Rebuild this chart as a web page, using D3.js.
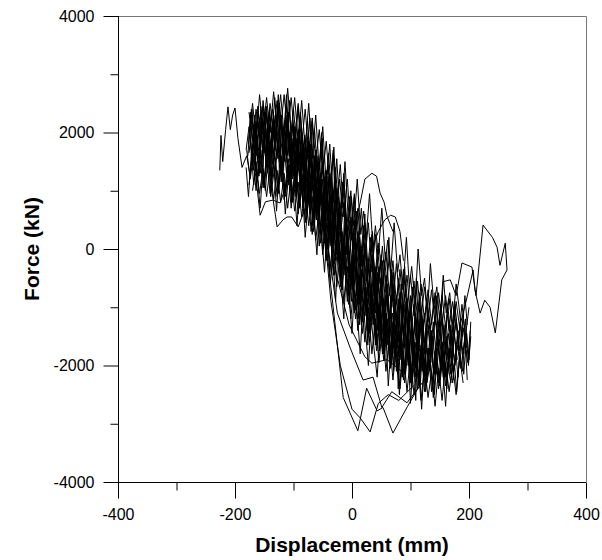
<!DOCTYPE html>
<html>
<head>
<meta charset="utf-8">
<script src="https://cdn.jsdelivr.net/npm/d3@7"></script>
<style>
  body { margin: 0; background: #fff; }
  svg { display: block; }
</style>
</head>
<body>
<svg id="chart" width="602" height="560"></svg>
<script>
"use strict";

// axis ticks
const xMajor = [-400, -200, 0, 200, 400];
const xMinor = [-300, -100, 100, 300];
const yMajor = [-4000, -2000, 0, 2000, 4000];
const yMinor = [-3000, -1000, 1000, 3000];

// hysteresis traces, [displacement mm, force kN]
const branch1 = [[-226,1350],[-224,1950],[-221,1500],[-216,2050],[-212,2440],[-208,2050],[-204,2300],[-200,2420],[-195,1900],[-188,1400],[-180,1600],[-174,1250],[-168,1900],[-162,1150],[-156,1700],[-150,1050],[-144,1800],[-138,1200],[-132,1600],[-126,950],[-120,1500],[-114,900],[-108,1450],[-102,800],[-96,1300],[-90,700],[-84,1250],[-78,500],[-72,1100],[-66,300],[-60,900],[-54,100],[-48,650],[-42,-200],[-36,350],[-30,-450],[-24,50],[-18,-700],[-12,-200],[-6,-950],[0,-400],[6,-1200],[12,-650],[18,-1450],[24,-850],[30,-1600],[36,-1000],[42,-1750],[48,-1200],[54,-1900],[60,-1350],[66,-2050],[72,-1500],[78,-2150],[84,-1600],[90,-2300],[96,-1700],[102,-2400],[108,-1800],[114,-2350],[120,-1850],[126,-2450],[132,-1900],[138,-2300],[144,-1850],[150,-2250],[156,-1750],[162,-2200],[168,-1700],[174,-2100],[180,-1650],[186,-2050],[192,-1600],[198,-1950],[202,-1400]];
const branch2 = [[200,-1000],[194,-1500],[188,-950],[182,-1550],[176,-1000],[170,-1600],[164,-1000],[158,-1500],[152,-950],[146,-1450],[140,-900],[134,-1400],[128,-850],[122,-1350],[116,-750],[110,-1300],[104,-650],[98,-1250],[92,-600],[86,-1150],[80,-500],[74,-1050],[68,-350],[62,-900],[56,-200],[50,-750],[44,0],[38,-600],[32,200],[26,-400],[20,400],[14,-200],[8,650],[2,0],[-4,900],[-10,250],[-16,1150],[-22,450],[-28,1400],[-34,700],[-40,1650],[-46,950],[-52,1850],[-58,1200],[-64,2050],[-70,1400],[-76,2200],[-82,1550],[-88,2300],[-94,1700],[-100,2400],[-106,1800],[-112,2450],[-118,1850],[-124,2500],[-130,1850],[-136,2400],[-142,1900],[-148,2450],[-154,1900],[-160,2350],[-166,1800],[-172,2300]];
const branch3 = [[-172,1500],[-166,2200],[-160,1550],[-154,2250],[-148,1600],[-142,2150],[-136,1450],[-130,2100],[-124,1400],[-118,2050],[-112,1300],[-106,2000],[-100,1250],[-94,1900],[-88,1100],[-82,1750],[-76,950],[-70,1600],[-64,750],[-58,1400],[-52,500],[-46,1200],[-40,250],[-34,950],[-28,0],[-22,700],[-16,-250],[-10,450],[-4,-500],[2,150],[8,-800],[14,-150],[20,-1050],[26,-400],[32,-1250],[38,-550],[44,-1400],[50,-700],[56,-1550],[62,-850],[68,-1700],[74,-1000],[80,-1850],[86,-1150],[92,-1950],[98,-1250],[104,-2000],[110,-1300],[116,-2100],[122,-1350],[128,-2150],[134,-1400],[140,-2150],[146,-1450],[152,-2100],[158,-1450],[164,-2050],[170,-1450],[176,-2000],[182,-1400]];
const branch4 = [[180,-1900],[174,-1400],[168,-2150],[162,-1500],[156,-2200],[150,-1550],[144,-2150],[138,-1500],[132,-2100],[126,-1450],[120,-2100],[114,-1400],[108,-2050],[102,-1350],[96,-2000],[90,-1250],[84,-1900],[78,-1200],[72,-1800],[66,-1050],[60,-1650],[54,-850],[48,-1500],[42,-700],[36,-1300],[30,-500],[24,-1150],[18,-300],[12,-950],[6,-100],[0,-700],[-6,150],[-12,-450],[-18,400],[-24,-200],[-30,650],[-36,50],[-42,900],[-48,300],[-54,1150],[-60,550],[-66,1350],[-72,750],[-78,1550],[-84,900],[-90,1650],[-96,1050],[-102,1700],[-108,1100],[-114,1800],[-120,1200],[-126,1850],[-132,1250],[-138,1900],[-144,1300],[-150,1950],[-156,1300],[-162,1950],[-168,1350],[-174,1900]];
const branch5 = [[-175,2050],[-170,2500],[-164,1900],[-158,2650],[-152,2050],[-146,2600],[-140,2000],[-134,2700],[-128,2100],[-122,2650],[-116,1950],[-110,2760],[-104,2000],[-98,2600],[-92,1850],[-86,2550],[-80,1700],[-74,2500],[-68,1550],[-62,2300],[-56,1350],[-50,2100],[-44,1100],[-38,1800],[-32,800],[-26,1550],[-20,500],[-14,1250],[-8,250],[-2,1000],[4,0],[10,700],[16,-200],[22,450],[28,-400],[34,250],[40,-550],[46,100],[52,-650],[58,-50],[64,-800],[70,-200],[76,-950],[82,-350],[88,-1050],[94,-450],[100,-1150],[106,-550],[112,-1200],[118,-600],[124,-1250],[130,-700],[136,-1300],[142,-750],[148,-1350],[154,-800],[160,-1350],[166,-850],[172,-1400],[178,-900],[184,-1350]];
const branch6 = [[190,-2300],[184,-1850],[178,-2500],[172,-2000],[166,-2450],[160,-1950],[154,-2600],[148,-2050],[142,-2700],[136,-2100],[130,-2550],[124,-2000],[118,-2600],[112,-1950],[106,-2500],[100,-1850],[94,-2450],[88,-1750],[82,-2400],[76,-1650],[70,-2250],[64,-1500],[58,-2100],[52,-1350],[46,-1950],[40,-1200],[34,-1800],[28,-1000],[22,-1600],[16,-800],[10,-1400],[4,-550],[-2,-1200],[-8,-300],[-14,-900],[-20,-50],[-26,-650],[-32,200],[-38,-400],[-44,450],[-50,-100],[-56,700],[-62,150],[-68,900],[-74,400],[-80,1050],[-86,550],[-92,1150],[-98,650],[-104,1250],[-110,700],[-116,1300],[-122,800],[-128,1350],[-134,850],[-140,1400],[-146,900],[-152,1400],[-158,950],[-164,1450],[-170,1000]];
const branch7 = [[-170,1450],[-166,2150],[-163,1700],[-158,1300],[-154,2250],[-147,1500],[-144,1900],[-139,1250],[-136,2050],[-129,1600],[-125,1850],[-121,1150],[-114,2000],[-111,1500],[-106,1200],[-101,1900],[-95,1000],[-92,1600],[-86,1300],[-83,1800],[-77,800],[-73,1400],[-68,1000],[-64,1600],[-57,500],[-53,1100],[-49,700],[-45,1250],[-39,150],[-36,700],[-31,300],[-27,800],[-21,-300],[-17,300],[-12,-100],[-8,400],[-2,-650],[1,-100],[6,-400],[10,-950],[16,0],[20,-700],[25,-1200],[31,-350],[35,-900],[40,-1400],[44,-500],[50,-1100],[55,-1600],[58,-800],[64,-1200],[69,-1750],[73,-850],[79,-1400],[84,-1900],[87,-1000],[93,-1650],[97,-2000],[102,-1150],[107,-1750],[111,-2100],[116,-1250],[121,-1850],[125,-2050],[130,-1300],[136,-1800],[140,-2150],[145,-1400],[151,-2000],[155,-1600],[159,-2200],[165,-1450],[170,-1850],[174,-2050],[180,-1500],[185,-1900],[190,-1350],[196,-1800]];
const branch8 = [[196,-1700],[190,-1150],[184,-1750],[178,-1200],[172,-1800],[166,-1250],[160,-1800],[154,-1200],[148,-1750],[142,-1150],[136,-1700],[130,-1100],[124,-1650],[118,-1050],[112,-1600],[106,-950],[100,-1550],[94,-850],[88,-1500],[82,-750],[76,-1400],[70,-600],[64,-1250],[58,-450],[52,-1100],[46,-300],[40,-950],[34,-100],[28,-750],[22,100],[16,-550],[10,300],[4,-300],[-2,550],[-8,-50],[-14,800],[-20,200],[-26,1050],[-32,400],[-38,1300],[-44,650],[-50,1500],[-56,900],[-62,1700],[-68,1100],[-74,1850],[-80,1250],[-86,2000],[-92,1350],[-98,2100],[-104,1400],[-110,2200],[-116,1500],[-122,2250],[-128,1550],[-134,2300],[-140,1600],[-146,2300],[-152,1650],[-158,2250],[-164,1600],[-170,2200],[-176,1650]];
const branch9 = [[-176,1100],[-170,1700],[-164,1000],[-158,1650],[-152,1050],[-146,1600],[-140,950],[-134,1550],[-128,900],[-122,1500],[-116,850],[-110,1450],[-104,700],[-98,1350],[-92,600],[-86,1250],[-80,450],[-74,1100],[-68,250],[-62,950],[-56,50],[-50,750],[-44,-200],[-38,500],[-32,-450],[-26,250],[-20,-650],[-14,0],[-8,-900],[-2,-250],[4,-1100],[10,-450],[16,-1300],[22,-650],[28,-1500],[34,-800],[40,-1650],[46,-950],[52,-1800],[58,-1100],[64,-1950],[70,-1250],[76,-2100],[82,-1400],[88,-2250],[94,-1500],[100,-2300],[106,-1600],[112,-2400],[118,-1650],[124,-2450],[130,-1700],[136,-2450],[142,-1750],[148,-2400],[154,-1800],[160,-2350],[166,-1800],[172,-2300],[178,-1750]];
const branch10 = [[178,-1400],[172,-900],[166,-1350],[160,-800],[154,-1300],[148,-750],[142,-1300],[136,-700],[130,-1250],[124,-650],[118,-1200],[112,-550],[106,-1150],[100,-450],[94,-1100],[88,-350],[82,-1000],[76,-250],[70,-900],[64,-100],[58,-750],[52,50],[46,-600],[40,250],[34,-400],[28,450],[22,-200],[16,700],[10,50],[4,950],[-2,300],[-8,1200],[-14,550],[-20,1450],[-26,800],[-32,1650],[-38,1050],[-44,1850],[-50,1300],[-56,2050],[-62,1500],[-68,2250],[-74,1650],[-80,2400],[-86,1800],[-92,2500],[-98,1900],[-104,2600],[-110,2000],[-116,2650],[-122,2050],[-128,2550],[-134,2000],[-140,2500],[-146,1950],[-152,2450],[-158,1900],[-164,2400],[-170,1850],[-176,2350]];
const branch11 = [[-176,1900],[-171,2400],[-166,1750],[-161,2450],[-156,1800],[-151,2350],[-146,1700],[-141,2400],[-136,1750],[-131,2300],[-126,1650],[-121,2300],[-116,1600],[-111,2200],[-106,1500],[-101,2150],[-96,1400],[-91,2050],[-86,1300],[-81,1950],[-76,1100],[-71,1800],[-66,900],[-61,1650],[-56,700],[-51,1450],[-46,500],[-41,1250],[-36,250],[-31,1000],[-26,0],[-21,800],[-16,-200],[-11,600],[-6,-400],[-1,350],[4,-600],[9,100],[14,-800],[19,-100],[24,-950],[29,-250],[34,-1100],[39,-400],[44,-1200],[49,-500],[54,-1300],[59,-650],[64,-1400],[69,-750],[74,-1500],[79,-850],[84,-1550],[89,-950],[94,-1650],[99,-1050],[104,-1700],[109,-1100],[114,-1750],[119,-1150],[124,-1800],[129,-1200],[134,-1800],[139,-1250],[144,-1850],[149,-1250],[154,-1850],[159,-1300],[164,-1900],[169,-1300],[174,-1850]];
const branch12 = [[174,-2250],[168,-1700],[162,-2300],[156,-1750],[150,-2350],[144,-1700],[138,-2400],[132,-1700],[126,-2350],[120,-1650],[114,-2300],[108,-1600],[102,-2250],[96,-1550],[90,-2150],[84,-1450],[78,-2050],[72,-1350],[66,-1950],[60,-1200],[54,-1800],[48,-1050],[42,-1650],[36,-850],[30,-1450],[24,-650],[18,-1250],[12,-450],[6,-1050],[0,-200],[-6,-800],[-12,50],[-18,-500],[-24,300],[-30,-250],[-36,550],[-42,0],[-48,800],[-54,250],[-60,1000],[-66,450],[-72,1150],[-78,600],[-84,1300],[-90,750],[-96,1450],[-102,850],[-108,1550],[-114,950],[-120,1600],[-126,1000],[-132,1650],[-138,1050],[-144,1700],[-150,1100],[-156,1700],[-162,1150],[-168,1650],[-174,1200],[-180,1700]];
const branch13 = [[-178,1600],[-173,2350],[-170,1900],[-163,2050],[-159,1250],[-156,2450],[-149,1800],[-147,1400],[-141,2300],[-133,1550],[-131,2150],[-124,2500],[-121,1300],[-113,1700],[-109,2350],[-104,1050],[-101,1800],[-93,1500],[-90,2150],[-84,700],[-79,1250],[-77,1900],[-69,1000],[-67,400],[-61,1500],[-55,850],[-53,1200],[-47,100],[-43,900],[-37,600],[-35,1350],[-28,-200],[-25,500],[-19,100],[-16,-700],[-11,700],[-4,-300],[-1,-900],[5,200],[9,-650],[13,-1300],[17,-350],[24,-700],[27,-1650],[33,-600],[38,-1200],[41,-300],[47,-1750],[53,-900],[56,-1400],[61,-600],[66,-2000],[69,-1100],[76,-1500],[79,-2400],[85,-1200],[90,-1700],[92,-900],[99,-2100],[103,-1400],[109,-2600],[112,-1500],[118,-1900],[121,-1200],[128,-2300],[133,-2000],[136,-1400],[141,-2500],[147,-1600],[151,-1950],[155,-1300],[162,-2400],[166,-1700],[171,-2000],[174,-1300],[181,-2200],[186,-1600],[191,-1800],[194,-1200],[199,-2000],[203,-1500]];
const branch14 = [[203,-1250],[200,-1900],[196,-1450],[191,-2150],[185,-1250],[182,-1750],[176,-950],[171,-1900],[168,-1500],[163,-1100],[157,-2050],[151,-1250],[148,-1650],[144,-800],[137,-1950],[134,-1300],[129,-1000],[124,-2200],[117,-1100],[115,-1600],[110,-500],[104,-1850],[101,-1000],[96,-1450],[90,-300],[85,-1300],[82,-800],[77,-1600],[71,-400],[68,-1000],[63,200],[58,-900],[54,-1350],[50,-100],[44,-700],[40,-1100],[35,300],[31,-400],[27,-800],[22,600],[16,-300],[13,200],[9,-500],[4,900],[-1,150],[-5,500],[-9,-100],[-14,1300],[-19,400],[-23,900],[-27,200],[-32,1700],[-37,800],[-40,1200],[-45,500],[-51,1900],[-55,1000],[-58,1500],[-63,800],[-68,2200],[-73,1300],[-77,1700],[-82,1000],[-88,2350],[-93,1450],[-97,1900],[-101,1200],[-107,2550],[-112,1600],[-115,2100],[-121,1400],[-126,2650],[-131,1700],[-134,2200],[-140,1500],[-146,2450],[-150,1650],[-155,2000],[-160,1300],[-166,2300],[-171,1500],[-176,2100],[-181,1700]];
const branch15 = [[-181,1400],[-177,900],[-172,1650],[-168,1100],[-164,1500],[-157,700],[-153,1300],[-148,1000],[-143,1700],[-139,900],[-133,1350],[-129,650],[-124,1450],[-117,1100],[-114,600],[-108,1350],[-103,800],[-99,1100],[-94,400],[-89,1250],[-83,700],[-80,200],[-74,900],[-70,300],[-66,700],[-60,-100],[-56,650],[-51,100],[-47,-400],[-42,400],[-37,-600],[-33,-100],[-28,-900],[-24,0],[-19,-500],[-14,-1200],[-10,-400],[-5,-800],[0,-1450],[4,-700],[9,-1100],[14,-1800],[19,-900],[23,-1400],[28,-2000],[33,-1200],[37,-1650],[43,-2200],[48,-1400],[53,-1800],[57,-1200],[62,-2350],[67,-1600],[71,-2000],[76,-1500],[81,-2500],[86,-1700],[90,-2150],[95,-1550],[100,-2650],[105,-1850],[108,-2200],[113,-1650],[119,-2750],[124,-1900],[127,-2300],[132,-1700],[139,-2550],[144,-1950],[148,-2300],[153,-1750],[160,-2700],[164,-2000],[169,-2300],[173,-1700],[179,-2450],[184,-1850],[189,-2100],[193,-1500],[197,-2250]];
const branch16 = [[197,-1300],[193,-800],[188,-1500],[183,-1000],[178,-600],[172,-1300],[167,-750],[161,-1100],[156,-450],[150,-1250],[145,-650],[140,-950],[134,-250],[129,-1100],[124,-500],[119,-800],[113,0],[108,-950],[102,-300],[98,-650],[93,200],[87,-700],[82,-100],[78,-400],[72,450],[66,-400],[61,150],[57,-200],[51,700],[45,-100],[40,400],[36,0],[30,950],[24,150],[20,650],[15,250],[9,1200],[3,400],[-1,900],[-6,450],[-12,1500],[-17,700],[-21,1200],[-26,700],[-31,1750],[-37,1000],[-41,1450],[-46,950],[-52,2000],[-57,1250],[-61,1700],[-66,1200],[-72,2250],[-77,1550],[-81,1950],[-86,1400],[-92,2450],[-97,1750],[-101,2150],[-106,1600],[-112,2650],[-117,1900],[-121,2300],[-126,1800],[-132,2600],[-137,1950],[-141,2350],[-146,1800],[-152,2550],[-157,1900],[-161,2200],[-166,1650],[-172,2400],[-177,1800]];
const branch17 = [[-100,1700],[-96,900],[-93,1500],[-88,1100],[-85,1900],[-80,800],[-76,1300],[-72,600],[-69,1500],[-64,400],[-61,1100],[-57,700],[-54,1300],[-49,0],[-46,800],[-42,300],[-39,1000],[-34,-300],[-31,400],[-27,-100],[-24,700],[-19,-600],[-16,100],[-12,-300],[-9,400],[-4,-1000],[-1,-200],[3,-600],[6,200],[11,-1200],[14,-500],[18,-900],[21,-200],[26,-1400],[29,-700],[33,-1100],[36,-400],[41,-1600],[44,-900],[48,-1300],[51,-600],[56,-1900],[59,-1100],[63,-1500],[66,-800],[71,-2100],[74,-1300],[78,-1700],[81,-1000],[86,-2200],[89,-1400],[93,-1800],[96,-1100],[101,-2300],[105,-1500],[109,-1900],[112,-1200],[117,-2300],[121,-1600],[125,-2000],[128,-1400]];
const branch18 = [[128,-1800],[124,-1100],[120,-1500],[116,-900],[112,-1900],[108,-1200],[104,-1600],[100,-800],[96,-1750],[92,-1000],[88,-1400],[84,-600],[80,-1600],[76,-800],[72,-1200],[68,-400],[64,-1450],[60,-600],[56,-1000],[52,-200],[48,-1250],[44,-400],[40,-800],[36,0],[32,-1050],[28,-200],[24,-550],[20,250],[16,-800],[12,50],[8,-300],[4,500],[0,-500],[-4,300],[-8,-100],[-12,800],[-16,-200],[-20,600],[-24,150],[-28,1100],[-32,100],[-36,900],[-40,400],[-44,1350],[-48,400],[-52,1200],[-56,700],[-60,1600],[-64,700],[-68,1450],[-72,1000],[-76,1850],[-80,1000],[-84,1650],[-88,1250],[-92,2000],[-96,1250],[-100,1800]];
const branch19 = [[-174,2200],[-171,1500],[-168,2000],[-165,1350],[-162,2300],[-158,1700],[-155,2100],[-152,1400],[-148,2350],[-145,1600],[-142,2000],[-138,1250],[-134,2200],[-131,1700],[-127,2450],[-124,1500],[-120,2100],[-117,1350],[-113,2300],[-110,1600],[-106,2000],[-103,1200],[-99,2100],[-96,1500],[-92,1850],[-89,1000],[-85,1950],[-82,1300],[-78,1700],[-75,800],[-71,1750],[-68,1100],[-64,1450],[-61,500],[-57,1500],[-54,800],[-50,1200],[-47,200],[-43,1100]];

// excursions outside the main band
const dipA = [[-52,700],[-40,-300],[-15,-2550],[10,-3120],[25,-2390],[43,-2780],[53,-2720],[70,-3160],[95,-2700],[118,-2300]];
const dipB = [[-48,400],[-36,-900],[-20,-2000],[0,-2750],[14,-2900],[31,-3140],[45,-2650],[62,-2500],[80,-2600],[105,-2350]];
const dipC = [[-42,100],[-25,-1100],[-3,-1700],[19,-2250],[36,-2200],[51,-2720],[68,-2450],[94,-2640],[120,-2300]];
const dipD = [[-30,-300],[-5,-1300],[22,-1850],[34,-1960],[60,-1900],[85,-2100]];
const bumpA = [[0,200],[14,790],[22,1200],[34,1300],[42,1250],[48,960],[55,800],[60,560],[70,300]];
const bumpB = [[30,-100],[45,300],[56,500],[66,580],[74,550],[82,300],[88,-200]];
const rightLoop = [[150,-1500],[156,-560],[168,-530],[178,-800],[188,-240],[205,-310],[212,-800],[224,410],[240,200],[248,30],[253,-280],[262,100],[265,-360],[256,-530],[245,-1440],[236,-1000],[227,-880],[219,-1100],[210,-700],[207,-360],[195,-900],[185,-1300]];
const sagA = [[-165,1300],[-157,580],[-148,810],[-135,840],[-123,790],[-112,1100],[-100,1500]];
const sagB = [[-140,1200],[-128,380],[-118,500],[-111,550],[-103,550],[-92,380],[-80,700]];

const traces = [branch1, branch2, branch3, branch4, branch5, branch6, branch7, branch8,
    branch9, branch10, branch11, branch12, branch13, branch14, branch15, branch16,
    branch17, branch18, branch19,
    dipA, dipB, dipC, dipD, bumpA, bumpB, rightLoop, sagA, sagB];

const svg = d3.select("#chart");
const font = "Liberation Sans, Arial, sans-serif";

const x = d3.scaleLinear().domain([-400, 400]).range([118, 586]);
const y = d3.scaleLinear().domain([-4000, 4000]).range([482, 16]);

// frame (top and right)
svg.append("path")
    .attr("fill", "none")
    .attr("stroke", "#777")
    .attr("d", `M${x(-400)},${y(4000) + 0.5}H${x(400) + 0.5}V${y(-4000)}`);

// traces
const line = d3.line().x(d => x(d[0])).y(d => y(d[1]));
svg.append("g")
    .attr("fill", "none")
    .attr("stroke", "#000")
    .attr("stroke-width", 1)
    .attr("stroke-linejoin", "round")
    .selectAll("path")
    .data(traces)
    .join("path")
    .attr("d", line);

// x axis
svg.append("g")
    .attr("transform", `translate(0,${y(-4000) + 0.5})`)
    .call(d3.axisBottom(x).tickValues(xMajor).tickSize(16).tickPadding(10).tickFormat(d => String(d)))
    .call(g => g.select(".domain").attr("d", `M${x(-400)},0H${x(400)}`));
svg.append("g")
    .attr("transform", `translate(0,${y(-4000) + 0.5})`)
    .call(d3.axisBottom(x).tickValues(xMinor).tickSize(8).tickFormat(""))
    .call(g => g.select(".domain").remove());

// y axis
svg.append("g")
    .attr("transform", `translate(${x(-400) + 0.5},0)`)
    .call(d3.axisLeft(y).tickValues(yMajor).tickSize(15).tickPadding(9).tickFormat(d => String(d)))
    .call(g => g.select(".domain").attr("d", `M0,${y(4000)}V${y(-4000)}`));
svg.append("g")
    .attr("transform", `translate(${x(-400) + 0.5},0)`)
    .call(d3.axisLeft(y).tickValues(yMinor).tickSize(8).tickFormat(""))
    .call(g => g.select(".domain").remove());

svg.selectAll(".tick text")
    .attr("font-family", font)
    .attr("font-size", 16)
    .attr("fill", "#000");
svg.selectAll(".tick line").attr("stroke", "#000");

// axis titles
svg.append("text")
    .attr("x", x(0))
    .attr("y", 552)
    .attr("text-anchor", "middle")
    .attr("font-family", font)
    .attr("font-weight", "bold")
    .attr("font-size", 21)
    .text("Displacement (mm)");

svg.append("text")
    .attr("transform", `translate(39,${y(0)}) rotate(-90)`)
    .attr("text-anchor", "middle")
    .attr("font-family", font)
    .attr("font-weight", "bold")
    .attr("font-size", 21)
    .text("Force (kN)");
</script>
</body>
</html>
